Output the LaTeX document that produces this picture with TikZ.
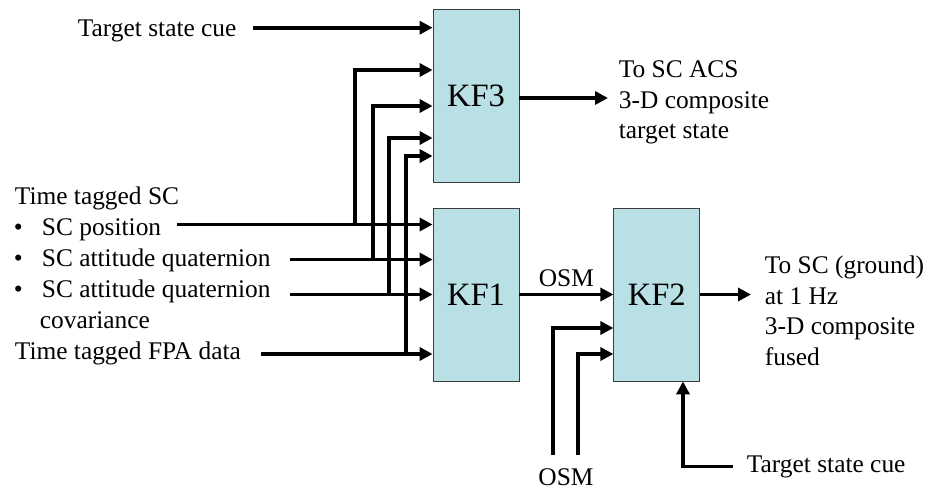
\documentclass[tikz,border=0pt]{standalone}
\usepackage{fontspec}
\setmainfont{Liberation Serif}
\usepackage{tikz}
\usetikzlibrary{arrows.meta,positioning}

\definecolor{kfcyan}{RGB}{185,224,228}
\definecolor{boxline}{RGB}{60,60,60}
\newcommand{\itm}{\makebox[28pt][l]{\textbullet}}

\begin{document}
\begin{tikzpicture}[->,>={Triangle[length=13pt,width=13pt]},x=1pt,y=-1pt,
                    line width=3.8pt,font=\fontsize{25.4}{30.5}\selectfont]
  \tikzstyle{filter}=[draw=boxline,line width=0.8pt,fill=kfcyan,
                      minimum width=86pt,minimum height=173pt,
                      font=\fontsize{32.6}{36}\selectfont]
  \tikzstyle{txt}=[inner sep=0pt,anchor=base west]
  \tikzstyle{note}=[inner sep=0pt,anchor=north west,align=left]

  \useasboundingbox (0,0) rectangle (927,490);

  \node[filter] (kf3) at (476,95.5)  {KF3};
  \node[filter] (kf1) at (476,294.5) {KF1};
  \node[filter] (kf2) [right=94pt of kf1] {KF2};

  % entry points on the filters
  \coordinate (k3a) at (kf3.west |- 0,27.7);
  \coordinate (k3b) at (kf3.west |- 0,70);
  \coordinate (k3c) at (kf3.west |- 0,106);
  \coordinate (k3d) at (kf3.west |- 0,138);
  \coordinate (k3e) at (kf3.west |- 0,156);
  \coordinate (k1a) at (kf1.west |- 0,224.5);
  \coordinate (k1b) at (kf1.west |- 0,259.5);
  \coordinate (k1c) at (kf1.west |- 0,294.5);
  \coordinate (k1d) at (kf1.west |- 0,354);
  \coordinate (k2b) at (kf2.west |- 0,328);
  \coordinate (k2c) at (kf2.west |- 0,354);
  \coordinate (k2s) at (683,0 |- kf2.south);
  \coordinate (a3)  at (608,98);
  \coordinate (a2)  at (751,294.5);

  \node[txt] (cue3) at (76,36)    {Target state cue};
  \node[txt] (sc)   at (13,204)   {Time tagged SC};
  \node[txt] (pos)  at (12,235)   {\itm SC position};
  \node[txt] (att)  at (12,266)   {\itm SC attitude quaternion};
  \node[txt] (cov)  at (12,297)   {\itm SC attitude quaternion};
  \node[txt] (cov2) at (38,328)   {covariance};
  \node[txt] (fpa)  at (13,359)   {Time tagged FPA data};
  \node[txt] (cue2) at (745,472)  {Target state cue};
  \node[inner sep=0pt,anchor=base] (osm) at (566,485) {OSM};
  \node[note] (acs) at (617,59)  {To SC ACS\\3-D composite\\target state};
  \node[note] (gnd) at (763,254) {To SC (ground)\\at 1 Hz\\3-D composite\\fused};

  % into KF3 and KF1
  \draw[shorten <=15pt] (cue3.east |- k3a) -- (k3a);
  \draw[shorten <=14pt] (pos.east |- k1a) -- (k1a);
  \draw[shorten <=18pt] (att.east |- k1b) -- (k1b);
  \draw[shorten <=18pt] (cov.east |- k1c) -- (k1c);
  \draw[shorten <=18pt] (fpa.east |- k1d) -- (k1d);
  \draw (355,0 |- k1a) |- (k3b);
  \draw (372.7,0 |- k1b) |- (k3c);
  \draw (389,0 |- k1c) |- (k3d);
  \draw (405.7,0 |- k1d) |- (k3e);

  % outputs and KF2
  \draw (kf3.east |- a3) -- (a3);
  \path (kf1) edge node[above=5.5pt,inner sep=0pt] {OSM} (kf2);
  \draw[shorten <=11pt] (553,0 |- osm.north) |- (k2b);
  \draw[shorten <=11pt] (578,0 |- osm.north) |- (k2c);
  \draw[shorten <=12pt] (cue2.west) -| (k2s);
  \draw (kf2) -- (a2);
\end{tikzpicture}
\end{document}
